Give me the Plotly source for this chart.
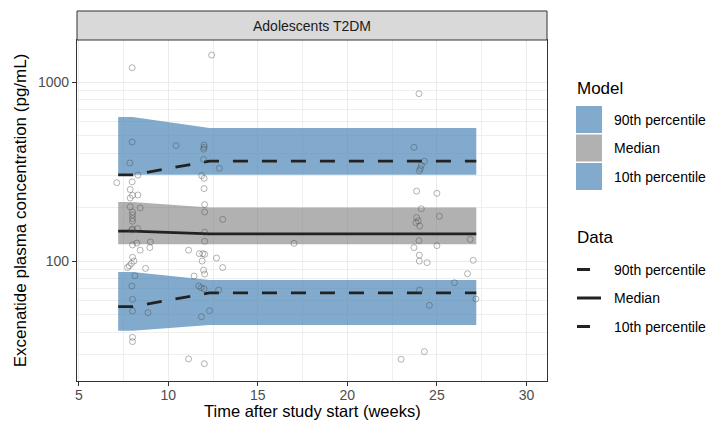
import plotly.graph_objects as go

# ---- model prediction intervals and observed percentiles (weeks, pg/mL) ----
time_bins = [7.2, 8.0, 12.3, 27.2]

p90_model_hi = [638, 638, 553, 553]
p90_model_lo = [304, 304, 304, 304]
med_model_hi = [214, 214, 199, 199]
med_model_lo = [124, 124, 124, 124]
p10_model_hi = [87, 87, 78.5, 78.5]
p10_model_lo = [40.8, 40.8, 44, 44]

p90_obs = [303, 303, 362, 362]
med_obs = [147, 147, 142, 142]
p10_obs = [55.6, 55.6, 66.4, 66.4]

# ---- individual observations ----
obs_week = [
    7.12, 7.98, 7.98, 7.98, 7.85, 8.30, 7.87, 8.00, 8.30, 7.87, 7.87, 8.43,
    8.00, 8.00, 8.00, 8.00, 8.00, 7.95, 8.28, 9.00, 8.97, 8.00, 8.24, 8.43,
    8.00, 8.08, 7.94, 7.82, 7.72, 8.73, 8.13, 7.96, 8.00, 8.00, 8.86, 8.00,
    8.00,
    10.43,
    12.42, 12.00, 12.00, 11.97, 11.97, 12.85, 11.86, 12.00, 12.00, 12.03,
    12.03, 13.04, 12.03, 12.03, 11.13, 11.73, 11.92, 12.03, 11.89, 12.69,
    13.04, 11.97, 12.03, 11.44, 11.70, 11.83, 12.00, 12.81, 12.30, 11.85,
    11.13, 12.01,
    17.02,
    24.00, 23.72, 24.30, 24.13, 24.08, 24.02, 23.87, 25.00, 24.13, 25.14,
    23.87, 23.83, 23.96, 24.04, 26.86, 24.00, 25.00, 23.72, 24.02, 24.02,
    24.45, 27.03, 26.71, 25.98, 24.04, 27.18, 24.58, 24.30, 23.00,
]
obs_conc = [
    274, 277, 1203, 463, 353, 302, 251, 233, 234, 225, 201, 198,
    188, 181, 173, 167, 151, 149, 152, 128, 119, 123, 126, 115,
    105, 100, 97, 94, 92, 91, 82.8, 72.6, 61.1, 52.6, 51.5, 37.5,
    35.5,
    442,
    1416, 445, 432, 422, 370, 330, 300, 290, 254, 207,
    188, 171, 145, 129, 115, 110, 110, 109, 100, 104,
    92, 89, 84.6, 82.5, 72.6, 71, 70, 68.9, 52.8, 48.9,
    28.4, 26.7,
    125.6,
    861, 432, 361, 343, 329, 319, 246, 239, 196, 178,
    175, 164, 168, 157, 132, 130, 122, 119, 108, 100,
    98, 101, 85, 75.7, 68.9, 61.4, 56.6, 31.2, 28.3,
]

# ---- axis breaks ----
x_major = [5, 10, 15, 20, 25, 30]
x_minor = [7.5, 12.5, 17.5, 22.5, 27.5]
y_major = [100, 1000]
y_major_text = ["100", "1000"]
y_minor = [30, 40, 50, 60, 70, 80, 90, 200, 300, 400, 500, 600, 700, 800, 900]

# ---- legend entries ----
model_labels = ["90th percentile", "Median", "10th percentile"]
data_labels = ["90th percentile", "Median", "10th percentile"]

BLUE = "rgba(70,130,180,0.68)"
GREY = "rgba(120,120,120,0.58)"
LINE = "#222222"
FONT = "Liberation Sans, Arial, Helvetica, sans-serif"

W, H = 710, 421
ML, MR, MT, MB = 77, 163, 40, 40
PW, PH = W - ML - MR, H - MT - MB


def px_x(px):
    return (px - ML) / PW


def px_y(py):
    return (H - MB - py) / PH


def ribbon(hi, lo, color):
    return go.Scatter(
        x=time_bins + time_bins[::-1],
        y=hi + lo[::-1],
        fill="toself",
        fillcolor=color,
        line=dict(width=0),
        mode="lines",
        hoverinfo="skip",
        showlegend=False,
    )


fig = go.Figure()
fig.add_trace(ribbon(p90_model_hi, p90_model_lo, BLUE))
fig.add_trace(ribbon(med_model_hi, med_model_lo, GREY))
fig.add_trace(ribbon(p10_model_hi, p10_model_lo, BLUE))

for ys, dash in [(p90_obs, "15px,14px"), (med_obs, "solid"), (p10_obs, "15px,14px")]:
    fig.add_trace(go.Scatter(
        x=time_bins, y=ys, mode="lines",
        line=dict(color=LINE, width=2.8, dash=dash),
        showlegend=False,
    ))

fig.add_trace(go.Scatter(
    x=obs_week, y=obs_conc, mode="markers",
    marker=dict(symbol="circle-open", size=6, color="rgba(70,70,70,0.45)",
                line=dict(width=0.9)),
    showlegend=False,
))

shapes = []
annotations = []

# facet strip
strip_h = 29 / PH
shapes.append(dict(type="rect", xref="paper", yref="paper", x0=0, x1=1,
                   y0=1, y1=1 + strip_h, fillcolor="#D9D9D9",
                   line=dict(color="#333333", width=1)))
annotations.append(dict(text="Adolescents T2DM", xref="paper", yref="paper",
                        x=0.5, y=1 + strip_h / 2, showarrow=False,
                        font=dict(family=FONT, size=14, color="#1A1A1A"),
                        xanchor="center", yanchor="middle"))

# x-axis title, sitting right at the lower edge of the figure
annotations.append(dict(text="Time after study start (weeks)", xref="paper",
                        yref="paper", x=0.5, y=px_y(410.5), showarrow=False,
                        xanchor="center", yanchor="middle",
                        font=dict(family=FONT, size=16.5, color="#000000")))

# legend: model ribbons
key_x0, key_x1 = 576, 602
label_x = 612
annotations.append(dict(text="Model", xref="paper", yref="paper",
                        x=px_x(575), y=px_y(88), showarrow=False,
                        xanchor="left", yanchor="middle",
                        font=dict(family=FONT, size=17, color="#000000")))
model_centres = [119.5, 148, 176.5]
model_fills = [BLUE, GREY, BLUE]
for lab, cy, col in zip(model_labels, model_centres, model_fills):
    shapes.append(dict(type="rect", xref="paper", yref="paper",
                       x0=px_x(key_x0), x1=px_x(key_x1),
                       y0=px_y(cy + 13.5), y1=px_y(cy - 13.5),
                       fillcolor=col, line=dict(width=0)))
    annotations.append(dict(text=lab, xref="paper", yref="paper",
                            x=px_x(label_x), y=px_y(cy), showarrow=False,
                            xanchor="left", yanchor="middle",
                            font=dict(family=FONT, size=14, color="#000000")))

# legend: observed percentiles
annotations.append(dict(text="Data", xref="paper", yref="paper",
                        x=px_x(575), y=px_y(238), showarrow=False,
                        xanchor="left", yanchor="middle",
                        font=dict(family=FONT, size=17, color="#000000")))
data_centres = [269.5, 298, 326.5]
data_key_ends = [590, 601, 590]
for lab, cy, xe in zip(data_labels, data_centres, data_key_ends):
    shapes.append(dict(type="line", xref="paper", yref="paper",
                       x0=px_x(577), x1=px_x(xe), y0=px_y(cy), y1=px_y(cy),
                       line=dict(color=LINE, width=3)))
    annotations.append(dict(text=lab, xref="paper", yref="paper",
                            x=px_x(label_x), y=px_y(cy), showarrow=False,
                            xanchor="left", yanchor="middle",
                            font=dict(family=FONT, size=14, color="#000000")))

axis_common = dict(
    showline=True, mirror=True, linecolor="#333333", linewidth=1.2,
    ticks="outside", ticklen=4, tickcolor="#333333", tickwidth=1,
    showgrid=True, gridcolor="#EBEBEB", gridwidth=1.1,
    zeroline=False, automargin=False,
    tickfont=dict(family=FONT, size=14, color="#4D4D4D"),
)

fig.update_layout(
    width=W, height=H,
    margin=dict(l=ML, r=MR, t=MT, b=MB, autoexpand=False),
    paper_bgcolor="white", plot_bgcolor="white",
    shapes=shapes, annotations=annotations,
    showlegend=False,
    xaxis=dict(
        axis_common, range=[4.9, 31.15], tickmode="array", tickvals=x_major,
        ticklabelstandoff=-3,
        minor=dict(tickvals=x_minor, showgrid=True, gridcolor="#EFEFEF",
                   gridwidth=0.6, ticklen=0),
    ),
    yaxis=dict(
        axis_common, type="log", range=[1.33, 3.235], tickmode="array",
        tickvals=y_major, ticktext=y_major_text,
        minor=dict(tickvals=y_minor, showgrid=True, gridcolor="#EFEFEF",
                   gridwidth=0.6, ticklen=0),
        title=dict(text="Excenatide plasma concentration (pg/mL)", standoff=6,
                   font=dict(family=FONT, size=17, color="#000000")),
    ),
)

fig.write_html("out.html")
